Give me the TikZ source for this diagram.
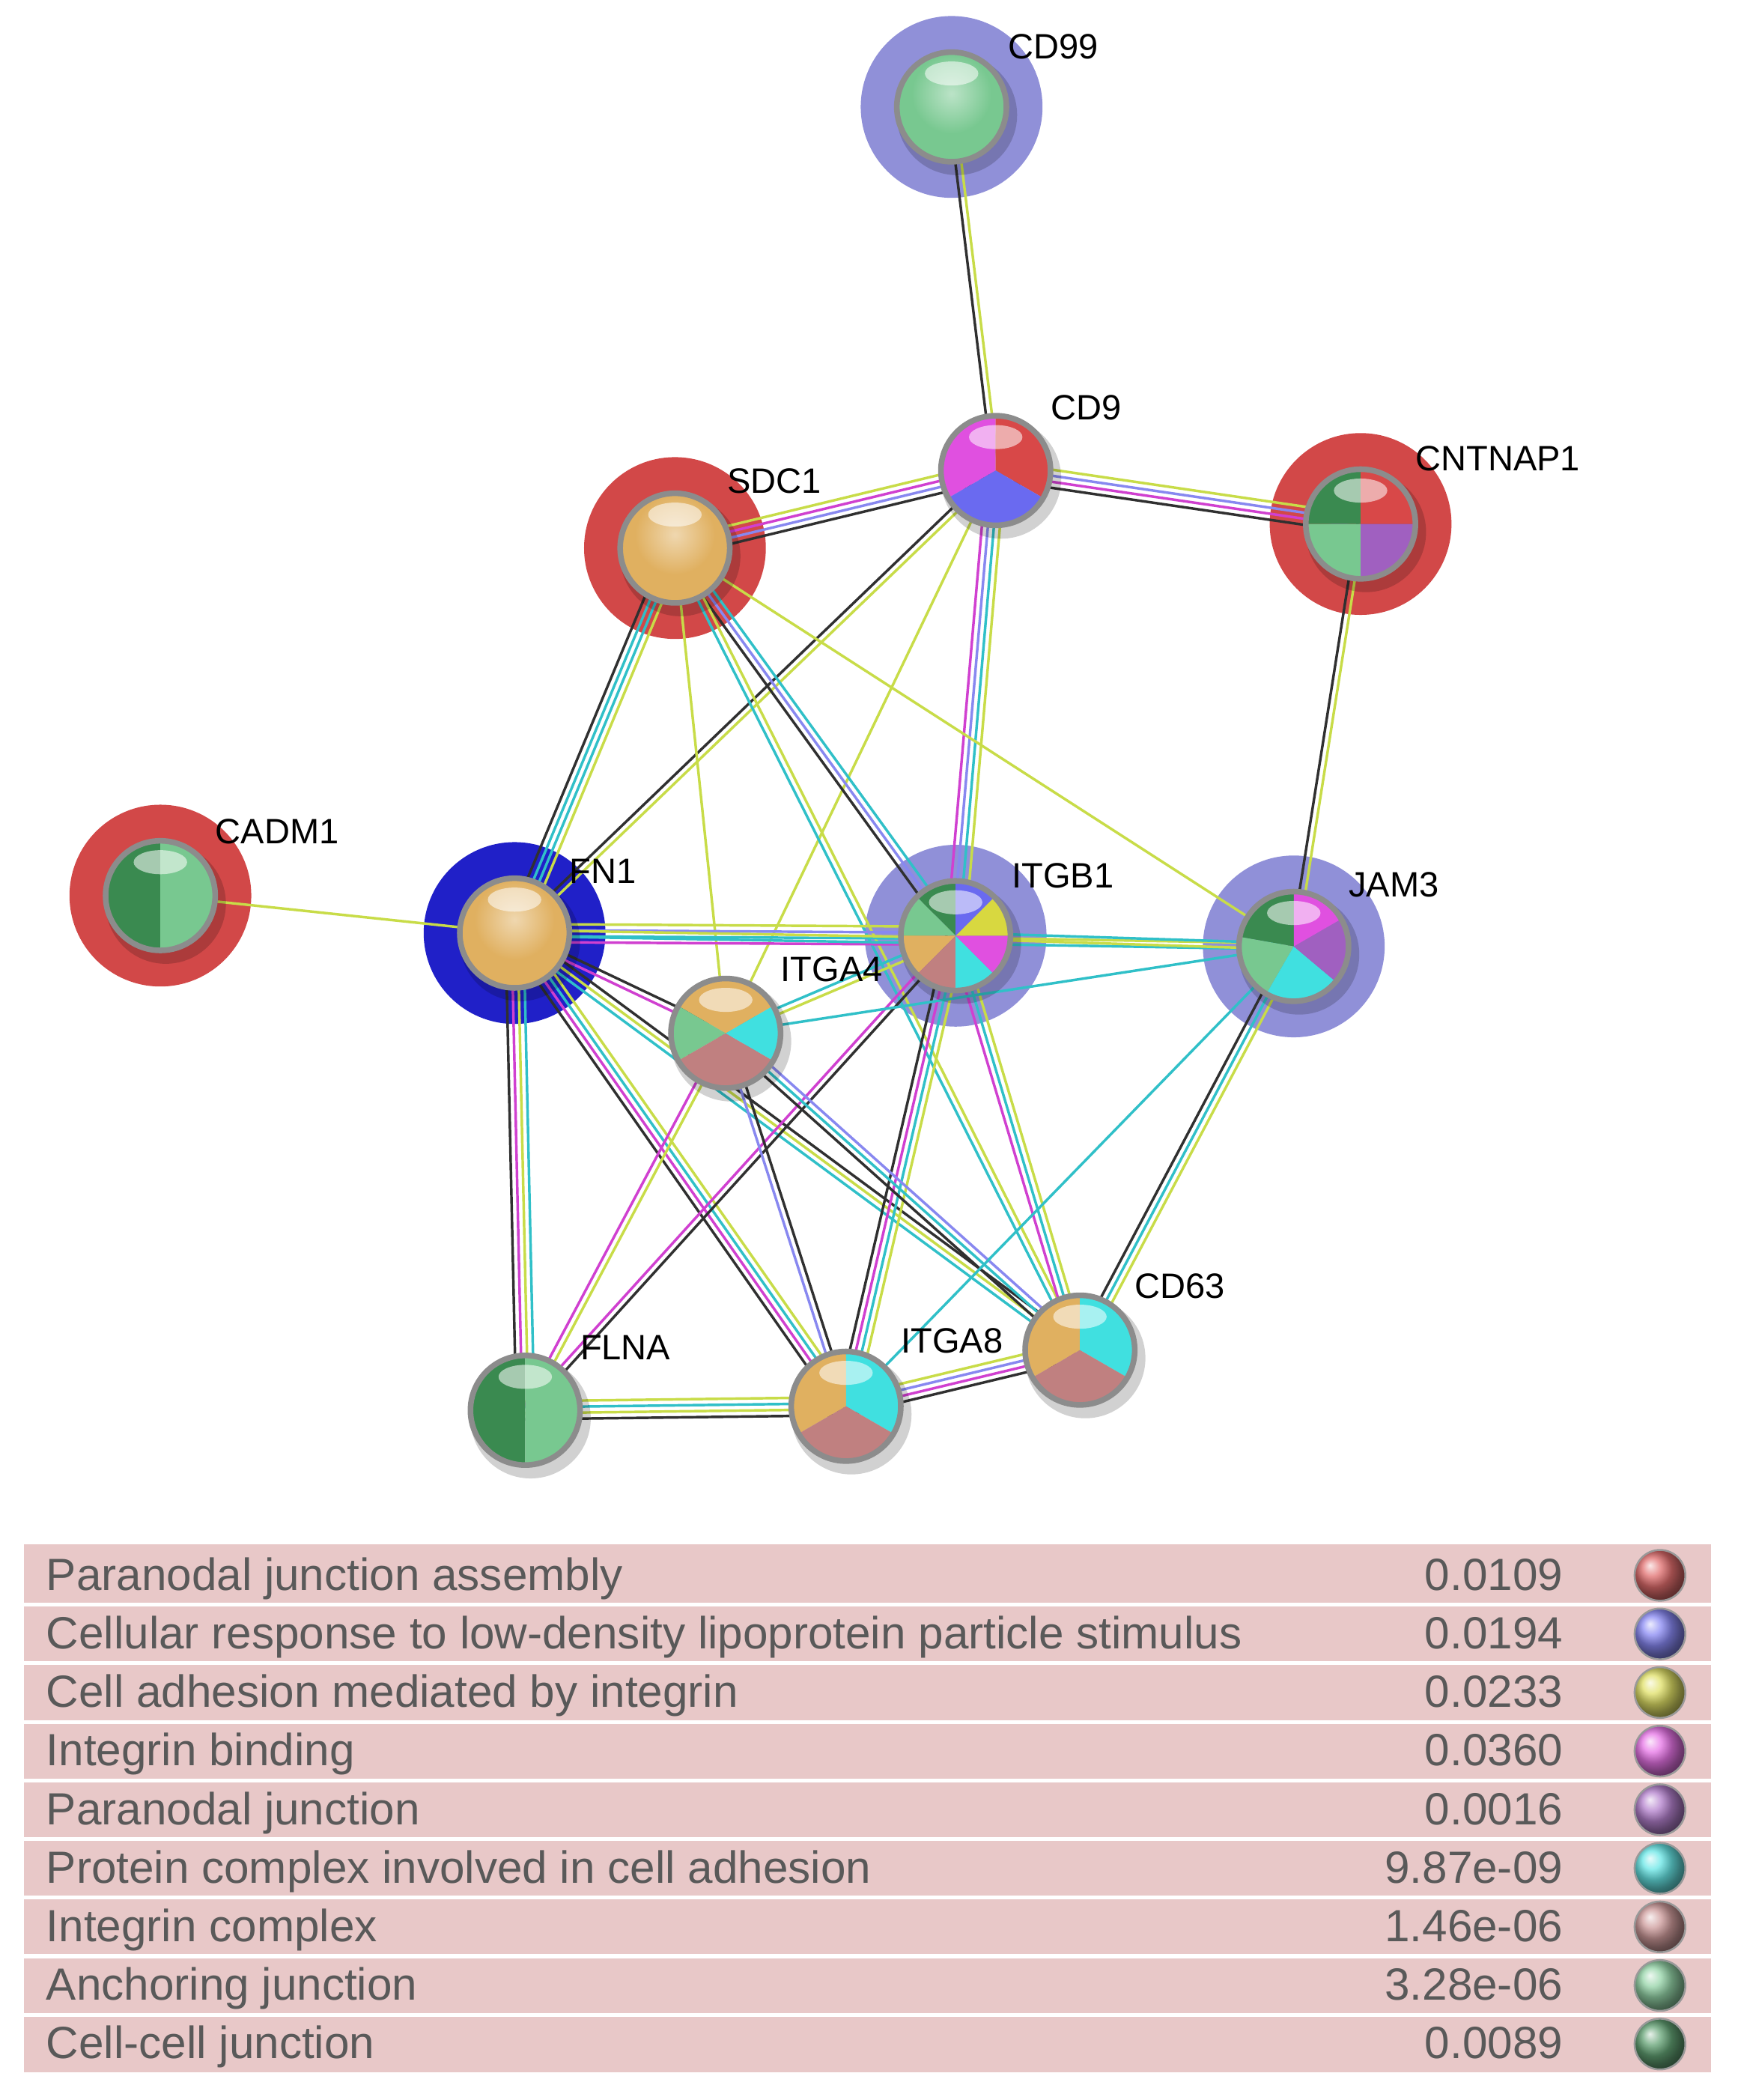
\documentclass[tikz,border=0pt]{standalone}
\usepackage{fontspec}
\setmainfont{Liberation Sans}
\usetikzlibrary{calc}
\definecolor{ey}{HTML}{C8DC48}
\definecolor{em}{HTML}{D040D0}
\definecolor{ec}{HTML}{30C0C8}
\definecolor{eb}{HTML}{8888F0}
\definecolor{ek}{HTML}{303030}
\definecolor{pr}{HTML}{D84848}
\definecolor{pb}{HTML}{6A6AF0}
\definecolor{py}{HTML}{D8D840}
\definecolor{pm}{HTML}{E050E0}
\definecolor{pp}{HTML}{A060C0}
\definecolor{pc}{HTML}{40E0E0}
\definecolor{pw}{HTML}{C08080}
\definecolor{pl}{HTML}{78C890}
\definecolor{pd}{HTML}{3A8A50}
\definecolor{po}{HTML}{E0B060}
\definecolor{hred}{HTML}{D24848}
\definecolor{hlav}{HTML}{9090D8}
\definecolor{hblue}{HTML}{2020C8}
\definecolor{legbg}{HTML}{E8C8C8}
\newcommand\ed[4]{%
 \foreach \c [count=\i] in {#4}{%
  \pgfmathsetmacro\o{(\i-(#3+1)/2)*0.045}%
  \draw[line width=0.55pt,\c] ($(#1.center)!\o cm!90:(#2.center)$) -- ($(#2.center)!\o cm!-90:(#1.center)$);}}
\newcommand\wdg[4]{\fill[#4] (#1.center) -- ++(#2:0.42) arc[start angle=#2,end angle=#3,radius=0.42] -- cycle;}
\newcommand\gloss[1]{%
 \fill[black,opacity=0.18] ($(#1.center)+(0.04,-0.06)$) circle (0.45);
}
\newcommand\finish[1]{%
 \draw[black!45,line width=1.2pt] (#1.center) circle (0.41);
 \fill[white,opacity=0.55] ($(#1.center)+(0,0.25)$) ellipse (0.2 and 0.09);}
\newcommand\ball[2]{\gloss{#1}\fill[#2] (#1.center) circle (0.42);\shade[inner color=white,outer color=#2,opacity=0.5] ($(#1.center)+(0,0.1)$) circle (0.3);\finish{#1}}
\tikzset{nd/.style={circle,minimum size=0.84cm,inner sep=0},
 lab/.style={font=\fontsize{7.5}{8}\selectfont,anchor=west,inner sep=1pt},
 legt/.style={font=\fontsize{9.6}{11}\selectfont,text=black!65,inner sep=0}}
\begin{document}
\begin{tikzpicture}
\useasboundingbox (0,0) rectangle (13,-15.71);
\fill[white] (0,0) rectangle (13,-15.71);
% nodes
\node[nd] (cd99) at (7.12,-0.80) {};
\node[nd] (cd9) at (7.45,-3.52) {};
\node[nd] (sdc1) at (5.05,-4.10) {};
\node[nd] (cnt) at (10.18,-3.92) {};
\node[nd] (cadm) at (1.20,-6.70) {};
\node[nd] (fn1) at (3.85,-6.98) {};
\node[nd] (itgb1) at (7.15,-7.00) {};
\node[nd] (jam3) at (9.68,-7.08) {};
\node[nd] (itga4) at (5.43,-7.73) {};
\node[nd] (flna) at (3.93,-10.55) {};
\node[nd] (itga8) at (6.33,-10.52) {};
\node[nd] (cd63) at (8.08,-10.10) {};
% halos
\fill[hlav] (cd99.center) circle (0.68);
\fill[hred] (sdc1.center) circle (0.68);
\fill[hred] (cnt.center) circle (0.68);
\fill[hred] (cadm.center) circle (0.68);
\fill[hblue] (fn1.center) circle (0.68);
\fill[hlav] (itgb1.center) circle (0.68);
\fill[hlav] (jam3.center) circle (0.68);
% edges
\ed{cd99}{cd9}{2}{ek,ey}
\ed{cd9}{sdc1}{4}{ey,em,eb,ek}
\ed{cd9}{cnt}{4}{ek,em,eb,ey}
\ed{cd9}{fn1}{2}{ek,ey}
\ed{cd9}{itga4}{1}{ey}
\ed{cd9}{itgb1}{4}{em,eb,ec,ey}
\ed{sdc1}{fn1}{4}{ek,ec,ec,ey}
\ed{sdc1}{itga4}{1}{ey}
\ed{sdc1}{itgb1}{3}{ek,eb,ec}
\ed{sdc1}{cd63}{2}{ec,ey}
\ed{sdc1}{jam3}{1}{ey}
\ed{cnt}{jam3}{2}{ek,ey}
\ed{cadm}{fn1}{1}{ey}
\ed{fn1}{itgb1}{4}{em,ec,eb,ey}
\ed{fn1}{jam3}{2}{ec,ey}
\ed{fn1}{itga4}{2}{em,ek}
\ed{fn1}{flna}{4}{ek,em,ey,ec}
\ed{fn1}{itga8}{4}{ek,em,ec,ey}
\ed{fn1}{cd63}{3}{ec,ey,ek}
\ed{itgb1}{itga4}{2}{ec,ey}
\ed{itgb1}{jam3}{2}{ey,ec}
\ed{itgb1}{flna}{2}{em,ek}
\ed{itgb1}{itga8}{4}{ek,em,ec,ey}
\ed{itgb1}{cd63}{3}{em,ec,ey}
\ed{itga4}{jam3}{1}{ec}
\ed{itga4}{flna}{2}{em,ey}
\ed{itga4}{itga8}{2}{eb,ek}
\ed{itga4}{cd63}{3}{ek,ec,eb}
\ed{jam3}{cd63}{3}{ek,ec,ey}
\ed{jam3}{itga8}{1}{ec}
\ed{flna}{itga8}{4}{ek,ey,ec,ey}
\ed{itga8}{cd63}{4}{ek,em,eb,ey}
% spheres
\ball{cd99}{pl}
\ball{sdc1}{po}
\ball{fn1}{po}
\gloss{cd9}\wdg{cd9}{90}{210}{pm}\wdg{cd9}{-30}{90}{pr}\wdg{cd9}{210}{330}{pb}\finish{cd9}
\gloss{cnt}\wdg{cnt}{90}{180}{pd}\wdg{cnt}{0}{90}{pr}\wdg{cnt}{180}{270}{pl}\wdg{cnt}{270}{360}{pp}\finish{cnt}
\gloss{cadm}\wdg{cadm}{90}{270}{pd}\wdg{cadm}{-90}{90}{pl}\finish{cadm}
\gloss{flna}\wdg{flna}{90}{270}{pd}\wdg{flna}{-90}{90}{pl}\finish{flna}
\gloss{itgb1}\wdg{itgb1}{90}{135}{pd}\wdg{itgb1}{135}{180}{pl}\wdg{itgb1}{180}{225}{po}\wdg{itgb1}{225}{270}{pw}\wdg{itgb1}{270}{315}{pc}\wdg{itgb1}{315}{360}{pm}\wdg{itgb1}{0}{45}{py}\wdg{itgb1}{45}{90}{pb}\finish{itgb1}
\gloss{jam3}\wdg{jam3}{90}{170}{pd}\wdg{jam3}{170}{240}{pl}\wdg{jam3}{240}{320}{pc}\wdg{jam3}{320}{390}{pp}\wdg{jam3}{30}{90}{pm}\finish{jam3}
\gloss{itga4}\wdg{itga4}{30}{150}{po}\wdg{itga4}{150}{210}{pl}\wdg{itga4}{210}{330}{pw}\wdg{itga4}{330}{390}{pc}\finish{itga4}
\gloss{itga8}\wdg{itga8}{90}{210}{po}\wdg{itga8}{-30}{90}{pc}\wdg{itga8}{210}{330}{pw}\finish{itga8}
\gloss{cd63}\wdg{cd63}{90}{210}{po}\wdg{cd63}{-30}{90}{pc}\wdg{cd63}{210}{330}{pw}\finish{cd63}
% labels
\node[lab] (l1) at (7.50,-0.35) {CD99};
\node[lab] (l2) at (7.82,-3.05) {CD9};
\node[lab] (l3) at (5.40,-3.60) {SDC1};
\node[lab] (l4) at (10.55,-3.43) {CNTNAP1};
\node[lab] (l5) at (1.57,-6.22) {CADM1};
\node[lab] (l6) at (4.22,-6.52) {FN1};
\node[lab] (l7) at (7.53,-6.55) {ITGB1};
\node[lab] (l8) at (10.05,-6.62) {JAM3};
\node[lab] (l9) at (5.80,-7.25) {ITGA4};
\node[lab] (l10) at (4.30,-10.08) {FLNA};
\node[lab] (l11) at (6.70,-10.03) {ITGA8};
\node[lab] (l12) at (8.45,-9.62) {CD63};
% legend
\fill[legbg] (0.18,-11.55) rectangle (12.80,-15.50);
\foreach \t/\v/\c [count=\i] in {
 Paranodal junction assembly/0.0109/pr,
 Cellular response to low-density lipoprotein particle stimulus/0.0194/pb,
 Cell adhesion mediated by integrin/0.0233/py,
 Integrin binding/0.0360/pm,
 Paranodal junction/0.0016/pp,
 Protein complex involved in cell adhesion/9.87e-09/pc,
 Integrin complex/1.46e-06/pw,
 Anchoring junction/3.28e-06/pl,
 Cell-cell junction/0.0089/pd}{
 \pgfmathsetmacro\yy{-11.55-0.235-(\i-1)*0.4383}
 \ifnum\i>1 \draw[white,line width=0.8pt] (0.18,\yy+0.219) -- (12.80,\yy+0.219);\fi
 \node[legt,anchor=base west] (t\i) at (0.34,\yy-0.11) {\t};
 \node[legt,anchor=base east] (v\i) at (11.70,\yy-0.11) {\v};
 \node[circle,inner sep=0,minimum size=0.38cm,ball color=\c!80!white,draw=black!40] (c\i) at (12.42,\yy) {};
}
\end{tikzpicture}
\end{document}
